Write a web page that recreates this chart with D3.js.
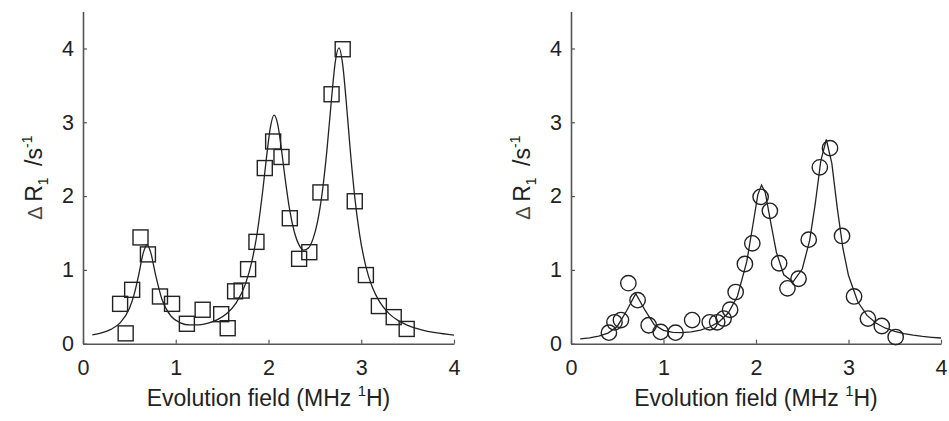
<!DOCTYPE html>
<html>
<head>
<meta charset="utf-8">
<script src="https://cdn.jsdelivr.net/npm/d3@7"></script>
<style>
  html, body { margin: 0; padding: 0; background: #fff; }
  svg { display: block; font-family: "Liberation Sans", Arial, Helvetica, sans-serif; }
</style>
</head>
<body>
<svg id="chart" width="949" height="421"></svg>
<script>
// Sample A (squares): measured relaxation-rate change vs evolution field
const fieldA = [0.40, 0.46, 0.53, 0.62, 0.70, 0.83, 0.96, 1.12, 1.29, 1.49, 1.56, 1.64, 1.71, 1.78, 1.87,
                1.96, 2.05, 2.14, 2.23, 2.33, 2.44, 2.56, 2.68, 2.80, 2.93, 3.05, 3.19, 3.35, 3.49];
const deltaR1A = [0.54, 0.14, 0.73, 1.44, 1.21, 0.64, 0.54, 0.27, 0.46, 0.40, 0.21, 0.71, 0.72, 1.01, 1.38,
                  2.38, 2.74, 2.53, 1.70, 1.15, 1.24, 2.05, 3.38, 3.99, 1.93, 0.93, 0.51, 0.36, 0.20];

// Sample A fitted curve
const fitFieldA = [0.1, 0.2, 0.3, 0.4, 0.5, 0.55, 0.6, 0.65, 0.69, 0.73, 0.78, 0.85, 0.95, 1.05, 1.15,
                   1.25, 1.35, 1.45, 1.55, 1.65, 1.75, 1.82, 1.88, 1.94, 1.98, 2.02, 2.06, 2.10, 2.14, 2.18,
                   2.23, 2.28, 2.33, 2.38, 2.43, 2.48, 2.53, 2.58, 2.63, 2.68, 2.72, 2.76, 2.80, 2.84, 2.88,
                   2.93, 2.98, 3.05, 3.12, 3.2, 3.3, 3.4, 3.5, 3.65, 3.8, 4.0];
const fitR1A = [0.119, 0.146, 0.194, 0.282, 0.477, 0.661, 0.930, 1.231, 1.343, 1.238, 0.946, 0.606, 0.372, 0.283, 0.254,
                0.255, 0.278, 0.326, 0.409, 0.55, 0.804, 1.111, 1.517, 2.096, 2.542, 2.928, 3.097, 2.97, 2.629, 2.23,
                1.80, 1.507, 1.336, 1.268, 1.296, 1.42, 1.661, 2.053, 2.623, 3.325, 3.818, 4.009, 3.781, 3.252, 2.645,
                1.987, 1.499, 1.045, 0.764, 0.563, 0.408, 0.312, 0.249, 0.188, 0.149, 0.117];

// Sample B (circles)
const fieldB = [0.41, 0.47, 0.54, 0.62, 0.72, 0.84, 0.97, 1.13, 1.31, 1.50, 1.58, 1.65, 1.72, 1.78, 1.88,
                1.96, 2.05, 2.15, 2.25, 2.34, 2.46, 2.57, 2.69, 2.80, 2.93, 3.06, 3.21, 3.36, 3.51];
const deltaR1B = [0.15, 0.29, 0.32, 0.82, 0.59, 0.25, 0.16, 0.15, 0.32, 0.29, 0.29, 0.34, 0.46, 0.70, 1.08,
                  1.36, 1.99, 1.80, 1.09, 0.75, 0.88, 1.41, 2.39, 2.65, 1.46, 0.64, 0.34, 0.24, 0.09];

// Sample B fitted curve
const fitFieldB = [0.1, 0.2, 0.3, 0.4, 0.5, 0.6, 0.7, 0.8, 0.9, 1.0, 1.1, 1.2, 1.3, 1.4, 1.5, 1.6, 1.7, 1.8, 1.9,
                   1.96, 2.02, 2.06, 2.1, 2.16, 2.22, 2.3, 2.4, 2.5, 2.58, 2.64, 2.7, 2.76, 2.82, 2.88, 2.94, 3.0,
                   3.1, 3.2, 3.3, 3.4, 3.5, 3.6, 3.7, 3.8, 3.9, 4.0];
const fitR1B = [0.066, 0.080, 0.102, 0.144, 0.234, 0.443, 0.679, 0.454, 0.257, 0.180, 0.154, 0.150, 0.161, 0.185,
                0.226, 0.295, 0.416, 0.646, 1.111, 1.561, 2.02, 2.150, 2.049, 1.638, 1.241, 0.934, 0.839, 1.012,
                1.40, 1.89, 2.475, 2.767, 2.443, 1.823, 1.29, 0.924, 0.568, 0.383, 0.276, 0.21, 0.167, 0.137,
                0.115, 0.099, 0.087, 0.077];

const xTicks = [0, 1, 2, 3, 4];
const yTicks = [0, 1, 2, 3, 4];
const xDomain = [0, 4];
const yDomain = [0, 4.5];

const ink = "#222";
const axisInk = "#555";

const svg = d3.select("#chart");

const panels = [
  { x0: 83,  x1: 454, marker: "square", fx: fieldA, fy: deltaR1A, cx: fitFieldA, cy: fitR1A, curve: d3.curveMonotoneX },
  { x0: 571, x1: 941, marker: "circle", fx: fieldB, fy: deltaR1B, cx: fitFieldB, cy: fitR1B, curve: d3.curveLinear }
];
const yTop = 11.6, yBottom = 343.7;

panels.forEach(p => {
  const x = d3.scaleLinear().domain(xDomain).range([p.x0, p.x1]);
  const y = d3.scaleLinear().domain(yDomain).range([yBottom, yTop]);
  const g = svg.append("g");

  // axes: left and bottom only, inward ticks
  const yAxis = d3.axisLeft(y).tickValues(yTicks).tickFormat(d3.format("d"))
    .tickSizeInner(-4).tickSizeOuter(0).tickPadding(9);
  const xAxis = d3.axisBottom(x).tickValues(xTicks).tickFormat(d3.format("d"))
    .tickSizeInner(-4).tickSizeOuter(0).tickPadding(16);

  const gy = g.append("g").attr("transform", `translate(${p.x0},0)`).call(yAxis);
  const gx = g.append("g").attr("transform", `translate(0,${yBottom})`).call(xAxis);
  [gx, gy].forEach(a => {
    a.select(".domain").attr("stroke", axisInk).attr("stroke-width", 1.6);
    a.selectAll(".tick line").attr("stroke", axisInk).attr("stroke-width", 1.2);
    a.selectAll(".tick text").attr("fill", ink).attr("font-size", 21.5)
      .attr("font-family", "'Liberation Sans', Arial, sans-serif");
  });

  // fitted curve
  const line = d3.line().x((d, i) => x(p.cx[i])).y(d => y(d)).curve(p.curve);
  g.append("path").datum(p.cy).attr("d", line)
    .attr("fill", "none").attr("stroke", ink).attr("stroke-width", 1.3);

  // measured points
  const pts = p.fx.map((v, i) => ({ f: v, r: p.fy[i] }));
  if (p.marker === "square") {
    const s = 15;
    g.selectAll("rect.pt").data(pts).join("rect").attr("class", "pt")
      .attr("x", d => x(d.f) - s / 2).attr("y", d => y(d.r) - s / 2)
      .attr("width", s).attr("height", s)
      .attr("fill", "none").attr("stroke", ink).attr("stroke-width", 1.4);
  } else {
    g.selectAll("circle.pt").data(pts).join("circle").attr("class", "pt")
      .attr("cx", d => x(d.f)).attr("cy", d => y(d.r)).attr("r", 7.7)
      .attr("fill", "none").attr("stroke", ink).attr("stroke-width", 1.4);
  }

  // x-axis title
  const xt = g.append("text")
    .attr("x", (p.x0 + p.x1) / 2).attr("y", 406)
    .attr("text-anchor", "middle").attr("font-size", 23).attr("fill", ink);
  xt.append("tspan").text("Evolution field (MHz ");
  xt.append("tspan").attr("font-size", 15).attr("dy", -10).text("1");
  xt.append("tspan").attr("dy", 10).text("H)");

  // y-axis title
  const yt = g.append("text")
    .attr("transform", `translate(${p.x0 - 41},${(yTop + yBottom) / 2}) rotate(-90)`)
    .attr("text-anchor", "middle").attr("font-size", 23).attr("fill", ink);
  yt.append("tspan").attr("font-size", 20).attr("fill", "#444").text("\u0394");
  yt.append("tspan").text("\u2009R");
  yt.append("tspan").attr("font-size", 14).attr("dy", 6).text("1");
  yt.append("tspan").attr("dy", -6).text("\u2002/s");
  yt.append("tspan").attr("font-size", 14).attr("dy", -10).text("-1");
});
</script>
</body>
</html>
